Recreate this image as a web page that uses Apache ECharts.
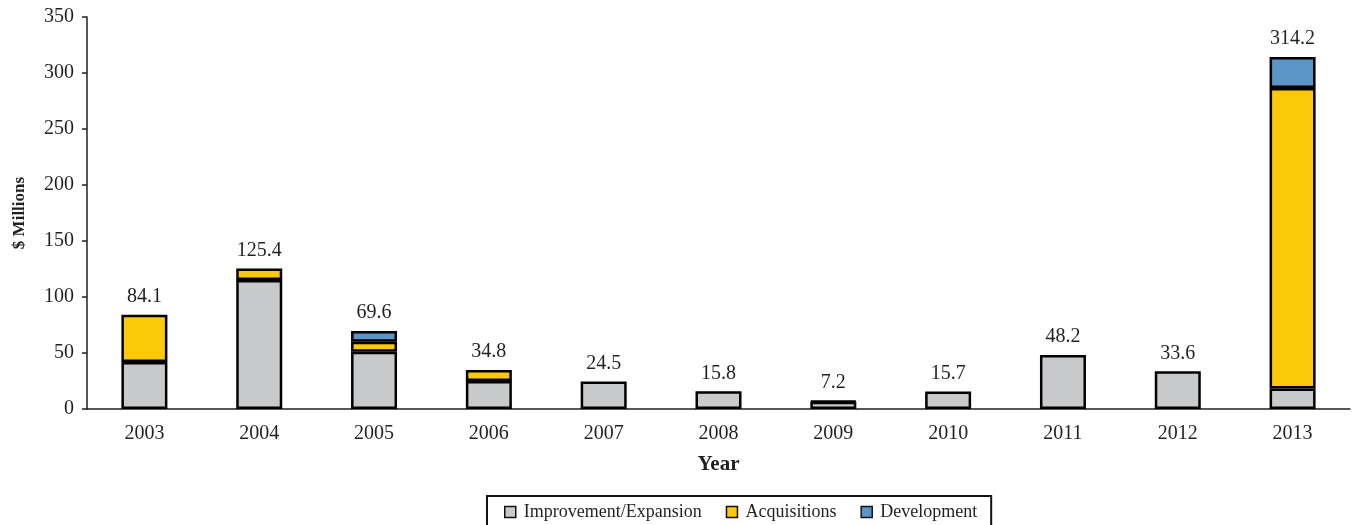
<!DOCTYPE html>
<html>
<head>
<meta charset="utf-8">
<script src="https://cdn.jsdelivr.net/npm/echarts@6/dist/echarts.min.js"></script>
<style>
  html, body { margin: 0; padding: 0; background: #fff; }
  #chart { width: 1355px; height: 525px; }
</style>
</head>
<body>
<div id="chart"></div>
<script>
// Capital spending by year, $ millions
const years = ['2003', '2004', '2005', '2006', '2007', '2008', '2009', '2010', '2011', '2012', '2013'];
const improvement = [42.0, 115.2, 51.2, 25.0, 24.5, 15.8, 6.4, 15.7, 48.2, 33.6, 18.2];
const acquisitions = [42.1, 10.2, 8.9, 9.8, 0, 0, 0.8, 0, 0, 0, 268.3];
const development = [0, 0, 9.5, 0, 0, 0, 0, 0, 0, 0, 27.7];
const totals = [84.1, 125.4, 69.6, 34.8, 24.5, 15.8, 7.2, 15.7, 48.2, 33.6, 314.2];
const yTicks = [0, 50, 100, 150, 200, 250, 300, 350];

const serif = '"Liberation Serif", "Times New Roman", serif';
const ink = '#231f20';

function segment(name, values, color) {
  return {
    name: name,
    type: 'bar',
    stack: 'total',
    barWidth: 46,
    data: values.map(v => (v > 0 ? v : '-')),
    itemStyle: { color: color, borderColor: '#000', borderWidth: 2.5 }
  };
}

const chart = echarts.init(document.getElementById('chart'));
chart.setOption({
  animation: false,
  textStyle: { fontFamily: serif, color: ink },
  grid: { left: 87, right: 5, top: 17, bottom: 116, containLabel: false, outerBoundsMode: 'none' },
  legend: {
    data: ['Improvement/Expansion', 'Acquisitions', 'Development'],
    icon: 'rect',
    left: 487,
    top: 496,
    padding: [7, 14, 10, 17],
    borderColor: '#111',
    borderWidth: 2,
    itemWidth: 11,
    itemHeight: 11,
    itemGap: 24,
    textStyle: { fontFamily: serif, fontSize: 18, color: ink, padding: [0, 0, 0, 3] },
    itemStyle: { borderColor: '#111', borderWidth: 1.5 }
  },
  xAxis: {
    type: 'category',
    data: years,
    name: 'Year',
    nameLocation: 'middle',
    nameGap: 45,
    nameTextStyle: { fontFamily: serif, fontSize: 21, fontWeight: 'bold', color: ink },
    axisLine: { lineStyle: { color: ink, width: 1.5 } },
    axisTick: { alignWithLabel: false, length: 5, lineStyle: { color: ink, width: 1.5 } },
    axisLabel: { fontFamily: serif, fontSize: 20, color: ink, margin: 15 }
  },
  yAxis: {
    type: 'value',
    min: yTicks[0],
    max: yTicks[yTicks.length - 1],
    interval: yTicks[1] - yTicks[0],
    name: '$ Millions',
    nameLocation: 'middle',
    nameGap: 59,
    nameTextStyle: { fontFamily: serif, fontSize: 17, fontWeight: 'bold', color: ink },
    axisLine: { show: true, lineStyle: { color: ink, width: 1.5 } },
    axisTick: { show: true, length: 5, lineStyle: { color: ink, width: 1.5 } },
    axisLabel: { fontFamily: serif, fontSize: 20, color: ink, margin: 13 },
    splitLine: { show: false }
  },
  series: [
    segment('Improvement/Expansion', improvement, '#c8c9ca'),
    segment('Acquisitions', acquisitions, '#fcc80a'),
    segment('Development', development, '#5b94c7'),
    {
      // zero-height cap carrying the total label above each stack
      name: 'Total',
      type: 'bar',
      stack: 'total',
      barWidth: 46,
      data: totals.map(() => 0),
      itemStyle: { color: 'transparent', borderWidth: 0 },
      label: {
        show: true,
        position: 'top',
        distance: 8,
        fontFamily: serif,
        fontSize: 20,
        color: ink,
        formatter: p => totals[p.dataIndex].toFixed(1)
      },
      silent: true
    }
  ]
});
</script>
</body>
</html>
